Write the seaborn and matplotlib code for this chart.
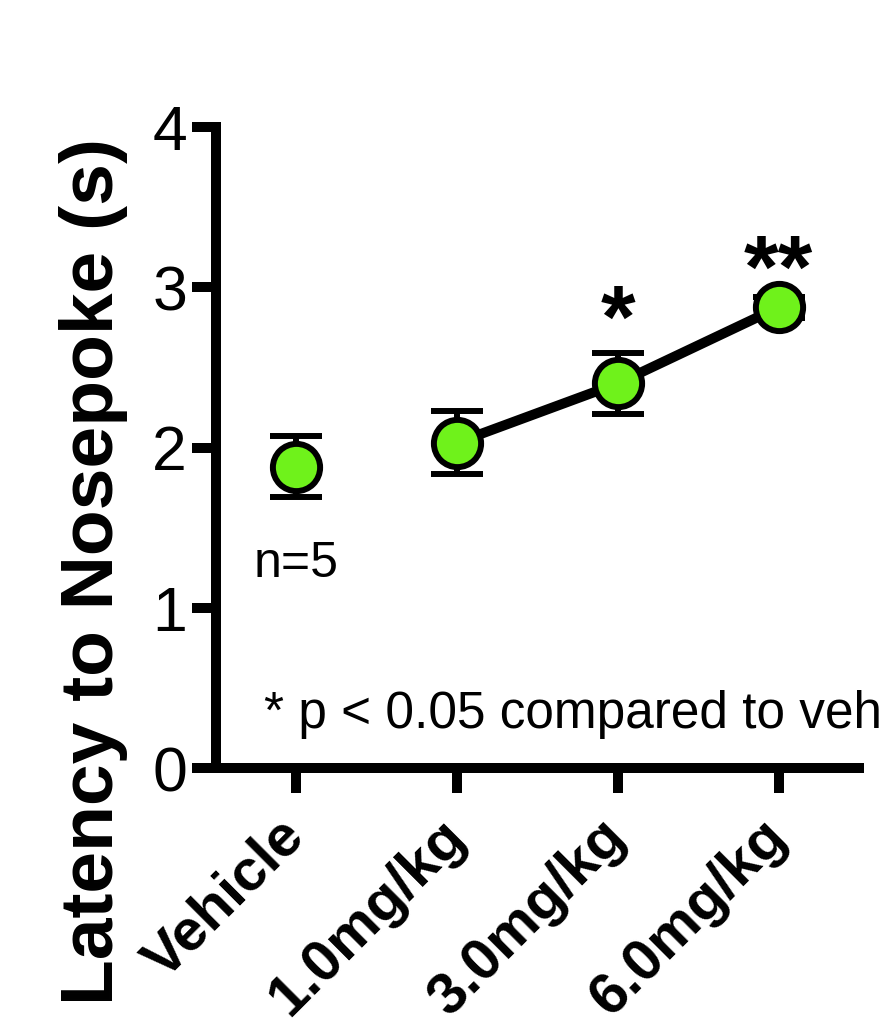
import numpy as np
import pandas as pd
import seaborn as sns
import matplotlib
matplotlib.use("Agg")
import matplotlib.pyplot as plt

# ---- data ----
groups = ["Vehicle", "1.0mg/kg", "3.0mg/kg", "6.0mg/kg"]
means = [1.88, 2.03, 2.40, 2.875]
sems = [0.19, 0.195, 0.19, 0.065]
stars = ["", "", "*", "**"]
star_base = [None, None, 2.63, 2.94]
connected = [False, True, True, True]
y_ticks = [0, 1, 2, 3, 4]
n_label = "n=5"
note = "* p < 0.05 compared to veh"
y_title = "Latency to Nosepoke (s)"

sns.set_theme(style="ticks")
plt.rcParams["font.family"] = ["Liberation Sans", "DejaVu Sans"]

W, H = 891, 1030
fig = plt.figure(figsize=(W / 100, H / 100), dpi=100)
ax = fig.add_axes([216 / W, 1 - 768 / H, (859 - 216) / W, (768 - 127) / H])

pos = np.arange(len(groups))
df = pd.DataFrame({"pos": pos, "group": groups, "mean": means, "sem": sems,
                   "conn": connected})

green = "#6FF21B"

ax.errorbar(df["pos"], df["mean"], yerr=df["sem"], fmt="none", ecolor="black",
            elinewidth=4.3, capsize=18.4, capthick=4.3, zorder=2)
sns.lineplot(data=df[df["conn"]], x="pos", y="mean", color="black",
             linewidth=7.2, ax=ax, zorder=3, legend=False)
sns.scatterplot(data=df, x="pos", y="mean", s=34 ** 2, color=green,
                edgecolor="black", linewidth=4.3, ax=ax, zorder=4,
                legend=False, clip_on=False)

for p, st, yb in zip(pos, stars, star_base):
    if st:
        ax.text(p, yb, st, ha="center", va="baseline", fontsize=64,
                fontweight="bold", color="black")

ax.text(0, 1.19, n_label, ha="center", va="baseline", fontsize=36, color="black")
ax.text(-0.2, 0.25, note, ha="left", va="baseline", fontsize=37, color="black",
        clip_on=False)

ax.set_xlim(-0.5, 3.5)
ax.set_ylim(0, 4)
ax.set_yticks(y_ticks)
ax.set_yticklabels([str(t) for t in y_ticks], fontsize=45)
ax.set_xticks(pos)
ax.set_xticklabels(groups, fontsize=42, fontweight="bold", rotation=45,
                   ha="right", va="center", rotation_mode="anchor")

for side in ["top", "right"]:
    ax.spines[side].set_visible(False)
for side in ["left", "bottom"]:
    ax.spines[side].set_linewidth(7.2)
    ax.spines[side].set_color("black")

ax.tick_params(axis="y", length=17.3, width=7.2, pad=3.6, colors="black")
ax.tick_params(axis="x", length=18, width=7.2, pad=25, colors="black")

ax.set_xlabel("")
ax.set_ylabel(y_title, fontsize=54, fontweight="bold", color="black")
ax.yaxis.set_label_coords(-0.137, 0.306)

ax.set_facecolor("white")
fig.patch.set_facecolor("white")
fig.savefig("out.png", dpi=100)
